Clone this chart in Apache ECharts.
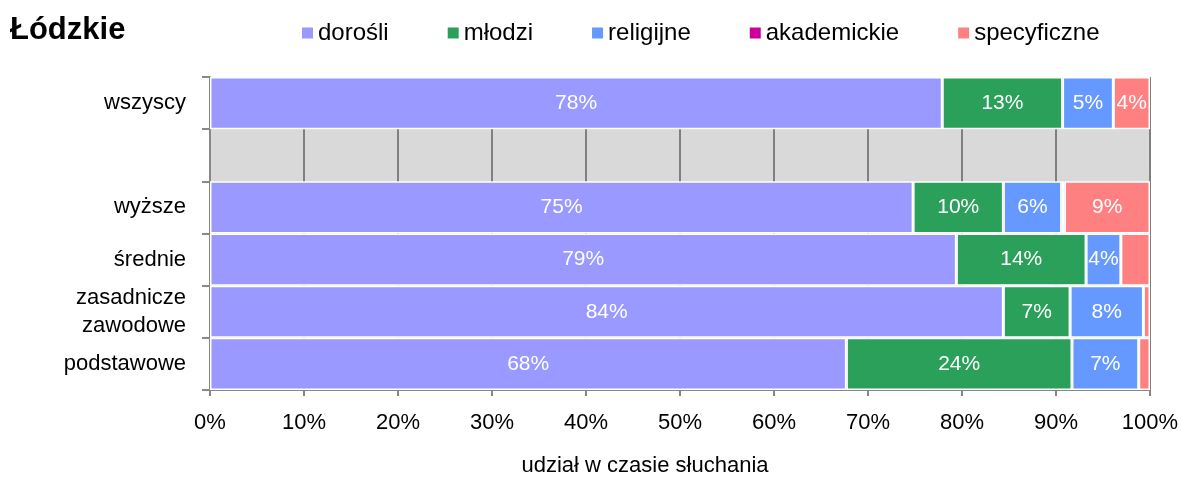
<!DOCTYPE html>
<html>
<head>
<meta charset="utf-8">
<script src="https://cdn.jsdelivr.net/npm/echarts@6/dist/echarts.min.js"></script>
<style>
  html, body { margin: 0; padding: 0; background: #fff; }
  #chart { width: 1181px; height: 480px; }
</style>
</head>
<body>
<div id="chart"></div>
<script>
// kategorie (pusty wiersz = szary odstęp)
const categories = ['wszyscy', '', 'wyższe', 'średnie', 'zasadnicze\nzawodowe', 'podstawowe'];
const seriesNames = ['dorośli', 'młodzi', 'religijne', 'akademickie', 'specyficzne'];
const colors = ['#9999FF', '#2AA05A', '#6699FF', '#CC0099', '#FF8080'];

const dorosli     = [77.9, '-', 74.8, 79.4, 84.4, 67.7];
const mlodzi      = [12.8, '-', 9.6, 13.8, 7.1, 24.0];
const religijne   = [5.4, '-', 6.2, 3.7, 7.8, 7.1];
const akademickie = [0, '-', 0.3, 0, 0, 0];
const specyficzne = [3.9, '-', 9.1, 3.1, 0.7, 1.2];

const xTicks = [0, 10, 20, 30, 40, 50, 60, 70, 80, 90, 100];

const font = '"Liberation Sans", Arial, sans-serif';
const chart = echarts.init(document.getElementById('chart'));

const values = [dorosli, mlodzi, religijne, akademickie, specyficzne];
const series = values.map((data, i) => ({
    name: seriesNames[i],
    type: 'bar',
    stack: 'total',
    barCategoryGap: '0%',
    itemStyle: {
        color: colors[i],
        borderColor: '#fff',
        borderWidth: 1.5
    },
    label: {
        show: true,
        position: 'inside',
        color: '#fff',
        fontFamily: font,
        fontSize: 21,
        formatter: p => (p.value >= 3.5 ? Math.round(p.value) + '%' : '')
    },
    data: data
}));

const option = {
    animation: false,
    title: {
        text: 'Łódzkie',
        left: 5,
        top: 10,
        textStyle: { fontFamily: font, fontSize: 31, fontWeight: 'bold', color: '#000' }
    },
    legend: {
        left: 295,
        top: 16,
        itemWidth: 13,
        itemHeight: 13,
        itemGap: 57,
        icon: 'rect',
        textStyle: { fontFamily: font, fontSize: 24, color: '#000', padding: [0, 0, 0, -1] },
        data: seriesNames
    },
    grid: {
        left: 210,
        right: 31,
        top: 77,
        bottom: 90,
        outerBoundsMode: 'none',
        show: true,
        backgroundColor: '#D9D9D9',
        borderWidth: 0
    },
    xAxis: {
        type: 'value',
        min: xTicks[0],
        max: xTicks[xTicks.length - 1],
        interval: 10,
        name: 'udział w czasie słuchania',
        nameLocation: 'middle',
        nameGap: 65,
        nameTextStyle: { fontFamily: font, fontSize: 22, color: '#000', padding: [0, 70, 0, 0] },
        axisLine: { show: true, lineStyle: { color: '#888', width: 2 } },
        axisTick: { show: true, length: 6, lineStyle: { color: '#888', width: 2 } },
        axisLabel: { fontFamily: font, fontSize: 22, color: '#000', margin: 22, formatter: '{value}%' },
        splitLine: { show: true, lineStyle: { color: '#808080', width: 2 } }
    },
    yAxis: {
        type: 'category',
        inverse: true,
        data: categories,
        axisLine: { show: true, lineStyle: { color: '#888', width: 2 } },
        axisTick: { show: true, length: 8, lineStyle: { color: '#888', width: 2 } },
        axisLabel: { fontFamily: font, fontSize: 22, color: '#000', margin: 24, lineHeight: 28 }
    },
    series: series
};

chart.setOption(option);
</script>
</body>
</html>
